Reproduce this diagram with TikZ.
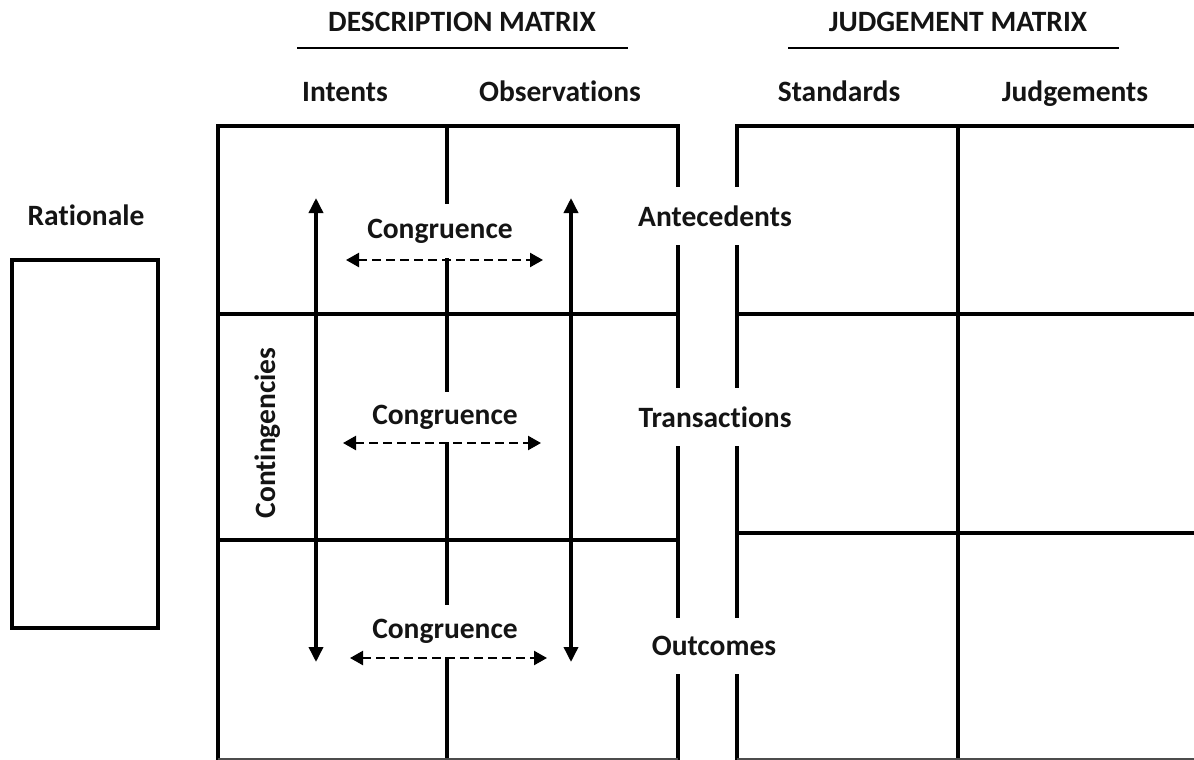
\documentclass[tikz,border=0pt]{standalone}
\usepackage{fontspec}
\setmainfont{Carlito}[Ligatures=NoCommon]
\usetikzlibrary{arrows.meta}
\tikzset{
  frame/.style={line width=4pt, line cap=rect},
  hdrline/.style={line width=2pt},
  lbl/.style={font=\fontsize{29.5}{34}\selectfont\bfseries, inner sep=0pt, text=black!92},
  gaplbl/.style={lbl, fill=white, inner xsep=3pt},
  vert/.style={line width=3.5pt, {Triangle[length=15pt,width=14pt]}-{Triangle[length=15pt,width=14pt]}},
  cong/.style={line width=2.3pt, dash pattern=on 9pt off 5pt, {Triangle[length=13pt,width=14pt]}-{Triangle[length=13pt,width=14pt]}},
}
\begin{document}
\begin{tikzpicture}[x=1pt,y=-1pt]
\useasboundingbox (0,0) rectangle (1194,760);
\clip (0,0) rectangle (1194,760);
% headers
\node[lbl, anchor=base] (desc) at (462,32) {DESCRIPTION MATRIX};
\node[lbl, anchor=base] (judg) at (958,32) {JUDGEMENT MATRIX};
\coordinate (d1) at (297,48); \coordinate (d2) at (628,48);
\coordinate (j1) at (788,48); \coordinate (j2) at (1119,48);
\draw[hdrline] (d1) -- (d2);
\draw[hdrline] (j1) -- (j2);
\node[lbl, anchor=base] (intents) at (345,101) {Intents};
\node[lbl, anchor=base] (obs) at (560,101) {Observations};
\node[lbl, anchor=base] (std) at (839,101) {Standards};
\node[lbl, anchor=base] (jdg) at (1075,101) {Judgements};
% rationale
\node[lbl] (rat) at (86,215) {Rationale};
\draw[line width=3.5pt] (12,260) rectangle (158,628);
% description matrix
\draw[frame] (218,760) -- (218,126) -- (678,126) -- (678,760);
\draw[frame] (447,126) -- (447,760);
\draw[frame] (218,314) -- (678,314);
\draw[frame] (218,540) -- (678,540);
\draw[line width=2pt, black!70] (218,759) -- (678,759);
% judgement matrix
\draw[frame] (737,760) -- (737,126) -- (1200,126);
\draw[frame] (958,126) -- (958,760);
\draw[frame] (737,314) -- (1200,314);
\draw[frame] (737,533) -- (1200,533);
\draw[line width=2pt, black!70] (737,759) -- (1200,759);
% row labels covering the gap
\node[gaplbl, minimum height=58pt] (ante) at (715,216) {Antecedents};
\node[gaplbl, minimum height=58pt] (trans) at (715,417) {Transactions};
\node[gaplbl, minimum height=56pt] (outc) at (714,646) {Outcomes};
% congruence labels
\node[gaplbl, minimum height=54pt] (cg1) at (440,231) {Congruence};
\node[gaplbl, minimum height=50pt] (cg2) at (445,417) {Congruence};
\node[gaplbl, minimum height=52pt] (cg3) at (445,631) {Congruence};
% contingencies
\node[lbl, rotate=90] (cont) at (268,433) {Contingencies};
% vertical arrows
\coordinate (vl1) at (316,198); \coordinate (vl2) at (316,662);
\coordinate (vr1) at (571,198); \coordinate (vr2) at (571,662);
\draw[vert] (vl2) -- (vl1);
\draw[vert] (vr2) -- (vr1);
% congruence arrows
\coordinate (a1) at (346,260); \coordinate (b1) at (543,260);
\coordinate (a2) at (343,443); \coordinate (b2) at (541,443);
\coordinate (a3) at (350,658); \coordinate (b3) at (547,658);
\draw[cong] (a1) -- (b1);
\draw[cong] (a2) -- (b2);
\draw[cong] (a3) -- (b3);
\end{tikzpicture}
\end{document}
